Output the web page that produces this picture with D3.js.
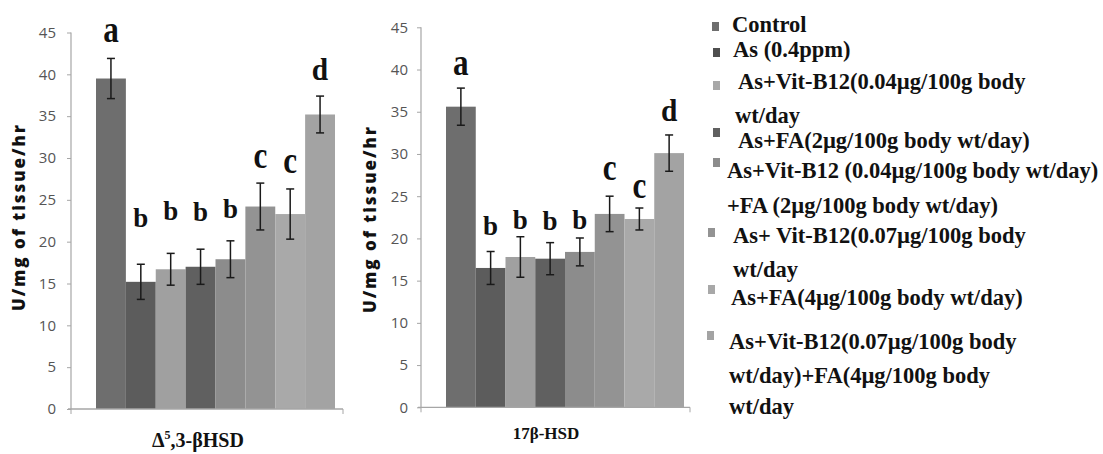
<!DOCTYPE html>
<html>
<head>
<meta charset="utf-8">
<script src="https://cdn.jsdelivr.net/npm/d3@7"></script>
<style>
  html, body { margin: 0; padding: 0; background: #ffffff; }
  svg { display: block; }
  .serif { font-family: "Liberation Serif", "Times New Roman", "DejaVu Serif", serif; font-weight: bold; }
  .sans { font-family: "Open Sans", "Noto Sans", sans-serif; }
</style>
</head>
<body>
<svg id="chart" width="1103" height="454"></svg>
<script>
// ---------------- DATA ----------------
const groups = [
  "Control",
  "As (0.4ppm)",
  "As+Vit-B12(0.04µg/100g body wt/day",
  "As+FA(2µg/100g body wt/day)",
  "As+Vit-B12 (0.04µg/100g body wt/day)+FA (2µg/100g body wt/day)",
  "As+ Vit-B12(0.07µg/100g body wt/day",
  "As+FA(4µg/100g body wt/day)",
  "As+Vit-B12(0.07µg/100g body wt/day)+FA(4µg/100g body wt/day"
];
const legendLines = [
  ["Control"],
  ["As (0.4ppm)"],
  ["As+Vit-B12(0.04µg/100g body", "wt/day"],
  ["As+FA(2µg/100g body wt/day)"],
  ["As+Vit-B12 (0.04µg/100g body wt/day)", "+FA (2µg/100g body wt/day)"],
  ["As+ Vit-B12(0.07µg/100g body", "wt/day"],
  ["As+FA(4µg/100g body wt/day)"],
  ["As+Vit-B12(0.07µg/100g body", "wt/day)+FA(4µg/100g body", "wt/day"]
];
const yTicks = [0, 5, 10, 15, 20, 25, 30, 35, 40, 45];
const yTitle = "U/mg of tissue/hr";

// Panel 1: Δ5,3-βHSD
const hsd3Values  = [39.5, 15.2, 16.7, 17.0, 17.9, 24.2, 23.3, 35.2];
const hsd3Errors  = [2.4, 2.1, 1.9, 2.1, 2.2, 2.8, 3.0, 2.2];
const hsd3Letters = ["a", "b", "b", "b", "b", "c", "c", "d"];
const hsd3LetterAt = [43.9, 21.8, 22.6, 22.5, 22.8, 28.8, 28.2, 39.3];

// Panel 2: 17β-HSD
const hsd17Values  = [35.6, 16.5, 17.8, 17.6, 18.4, 22.9, 22.3, 30.1];
const hsd17Errors  = [2.2, 1.95, 2.4, 1.9, 1.65, 2.1, 1.3, 2.15];
const hsd17Letters = ["a", "b", "b", "b", "b", "c", "c", "d"];
const hsd17LetterAt = [39.3, 20.4, 21.1, 21.0, 21.1, 26.9, 24.8, 33.9];

// ---------------- STYLE / LAYOUT ----------------
const barColors = ["#6e6e6e", "#5c5c5c", "#a0a0a0", "#606060", "#8c8c8c", "#939393", "#a9a9a9", "#a3a3a3"];
const legendColors = ["#6e6e6e", "#4e4e4e", "#a8a8a8", "#606060", "#8c8c8c", "#939393", "#a8a8a8", "#a3a3a3"];
const letterStyle = {
  a: { size: 38, sx: 0.82 },
  b: { size: 27, sx: 1.0 },
  c: { size: 38, sx: 0.82 },
  d: { size: 31, sx: 0.95 }
};
const panels = [
  { values: hsd3Values, errors: hsd3Errors, letters: hsd3Letters, letterAt: hsd3LetterAt,
    axisX: 71, axisRight: 343, barL: 96, barR: 335, top: 32.5, bottom: 409,
    tickEnd: 56, titleX: 19, titleY: 218, xLabelX: 198, xLabelY: 447, xLabelSize: 20, label: "hsd3" },
  { values: hsd17Values, errors: hsd17Errors, letters: hsd17Letters, letterAt: hsd17LetterAt,
    axisX: 421, axisRight: 690, barL: 446, barR: 684, top: 27.3, bottom: 407.3,
    tickEnd: 408, titleX: 370, titleY: 220, xLabelX: 546, xLabelY: 439, xLabelSize: 17, label: "hsd17" }
];
const legendLayout = [
  { sx: 712, sy: 22,  tx: 732, ys: [32],            cx: 732 },
  { sx: 713, sy: 48,  tx: 733, ys: [57],            cx: 733 },
  { sx: 713, sy: 81,  tx: 738, ys: [89, 123],       cx: 735 },
  { sx: 713, sy: 128, tx: 738, ys: [148],           cx: 738 },
  { sx: 713, sy: 158, tx: 727, ys: [178, 213],      cx: 727 },
  { sx: 708, sy: 228, tx: 733, ys: [243, 277],      cx: 733 },
  { sx: 708, sy: 285, tx: 731, ys: [305],           cx: 731 },
  { sx: 707, sy: 331, tx: 729, ys: [349, 383, 414], cx: 729 }
];

const svg = d3.select("#chart");
svg.append("rect").attr("width", 1103).attr("height", 454).attr("fill", "#ffffff");

panels.forEach(p => {
  const g = svg.append("g").attr("class", "panel-" + p.label);
  const y = d3.scaleLinear().domain([0, 45]).range([p.bottom, p.top]);
  const x = d3.scaleBand().domain(d3.range(groups.length)).range([p.barL, p.barR]).paddingInner(0).paddingOuter(0);

  g.selectAll("rect.bar").data(p.values).join("rect")
    .attr("class", "bar")
    .attr("x", (d, i) => x(i))
    .attr("width", x.bandwidth())
    .attr("y", d => y(d))
    .attr("height", d => y(0) - y(d))
    .attr("fill", (d, i) => barColors[i]);

  const yAxis = d3.axisLeft(y).tickValues(yTicks).tickSize(4).tickPadding(p.axisX - p.tickEnd - 4).tickFormat(d3.format("d"));
  const ya = g.append("g").attr("transform", `translate(${p.axisX},0)`).call(yAxis);
  ya.attr("font-family", null).attr("font-size", null);
  ya.select(".domain").attr("stroke", "#a6a6a6").attr("stroke-width", 1.2).attr("d", `M0,${y(45)}V${y(0)}`);
  ya.selectAll(".tick line").attr("stroke", "#a6a6a6");
  ya.selectAll(".tick text").attr("class", "sans").attr("fill", "#555555").style("font-size", "15px");

  const xa = g.append("g").attr("class", "x-axis");
  xa.append("path").attr("d", `M${p.axisX - 3},${y(0)}H${p.axisRight}`).attr("stroke", "#a6a6a6").attr("stroke-width", 1.3).attr("fill", "none");
  [p.axisX, p.axisRight].forEach(xx => {
    xa.append("line").attr("x1", xx).attr("x2", xx).attr("y1", y(0)).attr("y2", y(0) + 5).attr("stroke", "#a6a6a6");
  });

  const eb = g.append("g").attr("stroke", "#1a1a1a").attr("stroke-width", 1.5).attr("fill", "none");
  p.values.forEach((v, i) => {
    const cx = x(i) + x.bandwidth() / 2;
    const e = p.errors[i];
    eb.append("line").attr("x1", cx).attr("x2", cx).attr("y1", y(v + e)).attr("y2", y(v - e));
    eb.append("line").attr("x1", cx - 4).attr("x2", cx + 4).attr("y1", y(v + e)).attr("y2", y(v + e));
    eb.append("line").attr("x1", cx - 4).attr("x2", cx + 4).attr("y1", y(v - e)).attr("y2", y(v - e));
  });

  g.selectAll("text.sig").data(p.letters).join("text")
    .attr("class", "sig serif")
    .attr("transform", (d, i) => `translate(${x(i) + x.bandwidth() / 2},${y(p.letterAt[i])}) scale(${letterStyle[d].sx},1)`)
    .attr("text-anchor", "middle")
    .style("font-size", d => letterStyle[d].size + "px")
    .attr("fill", "#111")
    .text(d => d);

  g.append("text")
    .attr("class", "sans")
    .attr("transform", `translate(${p.titleX + 6},${p.titleY}) rotate(-90)`)
    .attr("text-anchor", "middle")
    .style("font-weight", "800")
    .style("font-size", "17px")
    .attr("fill", "#111")
    .attr("textLength", 186)
    .attr("lengthAdjust", "spacing")
    .text(yTitle);
});

const xl1 = svg.append("text")
  .attr("class", "serif")
  .attr("x", panels[0].xLabelX).attr("y", panels[0].xLabelY)
  .attr("text-anchor", "middle")
  .style("font-size", panels[0].xLabelSize + "px").attr("fill", "#111");
xl1.append("tspan").text("Δ");
xl1.append("tspan").style("font-size", "12px").attr("dy", -8).text("5");
xl1.append("tspan").attr("dy", 8).text(",3-βHSD");

svg.append("text")
  .attr("class", "serif")
  .attr("x", panels[1].xLabelX).attr("y", panels[1].xLabelY)
  .attr("text-anchor", "middle")
  .style("font-size", panels[1].xLabelSize + "px").attr("fill", "#111")
  .text("17β-HSD");

const lg = svg.append("g").attr("class", "legend");
legendLines.forEach((lines, i) => {
  const L = legendLayout[i];
  lg.append("rect").attr("x", L.sx).attr("y", L.sy).attr("width", 7).attr("height", 9).attr("fill", legendColors[i]);
  lines.forEach((t, j) => {
    lg.append("text")
      .attr("class", "serif")
      .attr("x", j === 0 ? L.tx : L.cx)
      .attr("y", L.ys[j])
      .style("font-size", "22.5px")
      .attr("fill", "#111")
      .text(t);
  });
});
</script>
</body>
</html>
